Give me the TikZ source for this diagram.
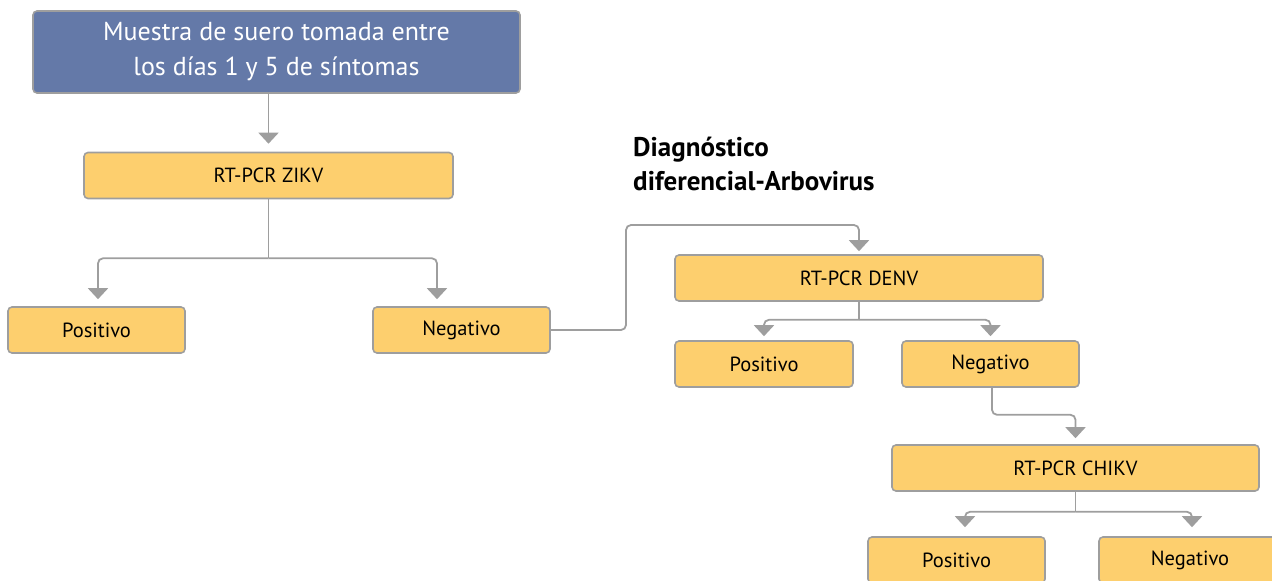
\documentclass[tikz,border=0pt]{standalone}
\usepackage{fontspec}
\setmainfont{PT Sans}
\usetikzlibrary{arrows.meta}
\definecolor{boxyellow}{HTML}{FDCF6E}
\definecolor{boxblue}{HTML}{6479A8}
\definecolor{linegray}{HTML}{9E9E9E}
\tikzset{
  testbox/.style={draw=linegray, line width=1.6pt, rounded corners=4pt, fill=boxyellow,
    minimum height=46pt, inner sep=0pt, font=\fontsize{20.5}{24}\selectfont},
  link/.style={draw=linegray, line width=1.8pt, rounded corners=5pt},
  flow/.style={link, -{Triangle[width=20pt,length=11pt]}},
}
\begin{document}
\begin{tikzpicture}[x=1pt,y=-1pt]
      \useasboundingbox (0,0) rectangle (1272,581);
      \node[testbox, fill=boxblue, text=white, minimum width=487pt, minimum height=82pt,
        align=center, font=\fontsize{26}{35}\selectfont] (muestra) at (276.5,52)
        {Muestra de suero tomada entre\\los días 1 y 5 de síntomas};
      \node[testbox, minimum width=369pt] (zikv) at (268.5,175.5) {RT-PCR ZIKV};
      \node[testbox, minimum width=177pt] (zikvpos) at (96.5,330) {Positivo};
      \node[testbox, minimum width=177pt] (zikvneg) at (461.5,330) {Negativo};
      \node[testbox, minimum width=368pt] (denv) at (859,278) {RT-PCR DENV};
      \node[testbox, minimum width=178pt] (denvpos) at (764,364) {Positivo};
      \node[testbox, minimum width=177pt] (denvneg) at (990.5,364) {Negativo};
      \node[testbox, minimum width=367pt] (chikv) at (1075.5,468) {RT-PCR CHIKV};
      \node[testbox, minimum width=177pt] (chikvpos) at (956.5,560) {Positivo};
      \node[testbox, minimum width=182pt] (chikvneg) at (1190,560) {Negativo};
      \node[anchor=north west, align=left, inner sep=0pt,
        font=\bfseries\fontsize{27}{34}\selectfont] (difer) at (633,137)
        {Diagnóstico\\diferencial-Arbovirus};
      % ZIKV
      \draw[flow, shorten >=8pt] (muestra.south -| zikv.north) -- (zikv.north);
      \draw[link] (zikv.south) -- ++(0,59) coordinate (zsplit);
      \draw[flow, shorten >=7pt] (zsplit) -| ([xshift=1.5pt]zikvpos.north);
      \draw[flow, shorten >=7pt] (zsplit) -| ([xshift=-24.5pt]zikvneg.north);
      % DENV
      \coordinate (jump) at (626,225);
      \draw[flow, shorten >=3pt] (zikvneg.east) -| (jump) -| (denv.north);
      \draw[link] (denv.south) -- ++(0,18) coordinate (dsplit);
      \draw[flow, shorten >=4pt] (dsplit) -| (denvpos.north);
      \draw[flow, shorten >=4pt] (dsplit) -| (denvneg.north);
      % CHIKV
      \draw[flow, shorten >=6pt] ([xshift=1.5pt]denvneg.south) -- ++(0,27) -| (chikv.north);
      \draw[link] (chikv.south) -- ++(0,20) coordinate (csplit);
      \draw[flow, shorten >=9pt] (csplit) -| ([xshift=8.5pt]chikvpos.north);
      \draw[flow, shorten >=9pt] (csplit) -| ([xshift=2pt]chikvneg.north);
    \end{tikzpicture}
\end{document}
